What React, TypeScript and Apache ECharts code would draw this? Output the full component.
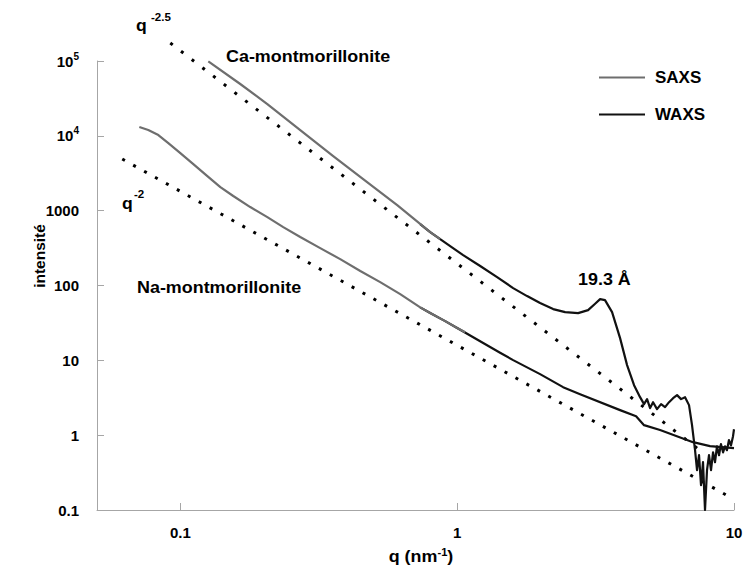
import React, { useEffect, useRef } from "react";
import * as echarts from "echarts";

// ---------- data ----------
const naSaxsQ = [0.0711, 0.0766, 0.0833, 0.0905, 0.1, 0.1114, 0.1252, 0.1395, 0.1553, 0.1789, 0.2062, 0.2354, 0.2711, 0.3201, 0.378, 0.4467, 0.5272, 0.6227, 0.7353, 0.799, 0.905, 1.0, 1.069];
const naSaxsI = [13100, 11960, 10250, 8010, 5890, 4198, 2900, 2068, 1570, 1117, 821, 603, 444, 316, 225, 156, 111, 76.7, 51, 42.8, 33.4, 27, 23.8];

const naWaxsQ = [0.7353, 0.799, 0.905, 1.0, 1.429, 1.593, 1.993, 2.414, 2.78, 3.877, 4.429, 4.732, 5.406, 7.112, 8.19, 10];
const naWaxsI = [51, 42.8, 33.4, 27, 12.6, 10.07, 6.54, 4.38, 3.53, 2.16, 1.79, 1.36, 1.17, 0.806, 0.713, 0.672];

const caSaxsQ = [0.1262, 0.1646, 0.2062, 0.2711, 0.3566, 0.4576, 0.6073, 0.7989, 0.868];
const caSaxsI = [99000, 49260, 26610, 11950, 5370, 2646, 1188, 517, 417];

const caWaxsQ = [0.7353, 0.7989, 0.9434, 1.051, 1.211, 1.394, 1.593, 1.789, 1.993, 2.222, 2.455, 2.734, 2.971, 3.15, 3.283, 3.42, 3.627, 3.877, 4.109, 4.355, 4.578, 4.732, 4.853, 4.976, 5.101, 5.272, 5.451, 5.636, 5.826, 6.024, 6.227, 6.438, 6.655, 6.879, 7.053, 7.232, 7.353, 7.476, 7.601, 7.728, 7.857, 7.989, 8.123, 8.26, 8.4, 8.54, 8.68, 8.83, 8.97, 9.13, 9.28, 9.43, 9.59, 9.75, 9.92, 10];
const caWaxsI = [660, 517, 336, 255, 182, 129.5, 92.3, 72.2, 58.2, 48.4, 44.1, 42.8, 46.9, 57, 65.8, 63.8, 44.1, 19.8, 8.63, 4.66, 3.22, 2.6, 3.03, 2.3, 2.76, 2.23, 2.6, 2.37, 2.76, 3.12, 3.43, 3.03, 3.22, 2.52, 1.36, 0.63, 0.34, 0.54, 0.215, 0.435, 0.1, 0.34, 0.54, 0.34, 0.59, 0.435, 0.71, 0.54, 0.76, 0.59, 0.71, 0.63, 0.86, 0.73, 0.97, 1.2];

// guide lines (power laws drawn as dotted lines)
const q25Q = [0.092, 7.857];
const q25I = [174000, 0.557];
const q2Q = [0.0617, 10];
const q2I = [4897, 0.139];

const legendNames = ["SAXS", "WAXS"];

const FONT = '"Liberation Sans", Arial, sans-serif';
const GRAY = "#6e6e6e";
const BLACK = "#111111";
const AXIS = "#a6a6a6";

const zip = (a: number[], b: number[]) => a.map((v, i) => [v, b[i]]);

const isDecade = (v: number) => {
  const l = Math.log10(v);
  return Math.abs(l - Math.round(l)) < 1e-6;
};

export default function App() {
  const ref = useRef<HTMLDivElement>(null);

  useEffect(() => {
    if (!ref.current) return;
    const chart = echarts.init(ref.current, undefined, { renderer: "svg" });

    const bold = (size: number) => `bold ${size}px ${FONT}`;

    const curve = (name: string, q: number[], I: number[], color: string, z: number) => ({
      name,
      type: "line",
      data: zip(q, I),
      symbol: "none",
      color,
      z,
      lineStyle: { color, width: 2.2, join: "round" },
    });

    const option: any = {
      animation: false,
      backgroundColor: "#ffffff",
      grid: { left: 97, right: 11, top: 61, bottom: 64, containLabel: false, outerBoundsMode: "none" },
      legend: {
        orient: "vertical",
        left: 594,
        top: 64,
        itemWidth: 46,
        itemHeight: 2,
        itemGap: 20,
        icon: "rect",
        data: legendNames,
        textStyle: { fontSize: 17, fontWeight: "bold", color: "#000", fontFamily: FONT, padding: [0, 0, 0, 5] },
      },
      xAxis: {
        type: "log",
        logBase: 10,
        min: 0.05,
        max: 10,
        axisLine: { show: true, lineStyle: { color: AXIS, width: 1 } },
        axisTick: { show: true, inside: true, length: 7, lineStyle: { color: AXIS } },
        minorTick: { show: false },
        splitLine: { show: false },
        axisLabel: {
          margin: 15,
          color: "#000",
          fontSize: 15,
          fontWeight: "bold",
          fontFamily: FONT,
          formatter: (v: number) => (isDecade(v) ? String(+v.toPrecision(6)) : ""),
        },
      },
      yAxis: {
        type: "log",
        logBase: 10,
        min: 0.1,
        max: 100000,
        axisLine: { show: true, lineStyle: { color: AXIS, width: 1 } },
        axisTick: { show: true, inside: true, length: 7, lineStyle: { color: AXIS } },
        minorTick: { show: false },
        splitLine: { show: false },
        axisLabel: {
          margin: 18,
          formatter: (v: number) => {
            if (!isDecade(v)) return "";
            const e = Math.round(Math.log10(v));
            if (e >= 4) return `{b|10}{s|${e}}`;
            return `{b|${+v.toPrecision(6)}}`;
          },
          rich: {
            b: { fontSize: 15, fontWeight: "bold", color: "#000", fontFamily: FONT },
            s: { fontSize: 10, fontWeight: "bold", color: "#000", fontFamily: FONT, padding: [0, 0, 10, 0] },
          },
        },
      },
      series: [
        {
          name: "q-2.5",
          type: "line",
          data: zip(q25Q, q25I),
          symbol: "none",
          clip: false,
          silent: true,
          z: 2,
          lineStyle: { color: "#000", width: 3, type: [3, 10.5] },
        },
        {
          name: "q-2",
          type: "line",
          data: zip(q2Q, q2I),
          symbol: "none",
          clip: false,
          silent: true,
          z: 2,
          lineStyle: { color: "#000", width: 3, type: [3, 9.5] },
        },
        curve("WAXS", caWaxsQ, caWaxsI, BLACK, 3),
        curve("WAXS", naWaxsQ, naWaxsI, BLACK, 3),
        curve("SAXS", caSaxsQ, caSaxsI, GRAY, 4),
        curve("SAXS", naSaxsQ, naSaxsI, GRAY, 4),
      ],
      graphic: [
        {
          type: "text",
          x: 226,
          y: 57,
          scaleX: 1.12,
          style: { text: "Ca-montmorillonite", font: bold(16), fill: "#000", align: "left", verticalAlign: "middle" },
        },
        {
          type: "text",
          x: 137,
          y: 288,
          scaleX: 1.12,
          style: { text: "Na-montmorillonite", font: bold(16), fill: "#000", align: "left", verticalAlign: "middle" },
        },
        {
          type: "text",
          x: 578,
          y: 280,
          scaleX: 1.12,
          style: { text: "19.3 Å", font: bold(16), fill: "#000", align: "left", verticalAlign: "middle" },
        },
        {
          type: "text",
          x: 136,
          y: 26,
          scaleX: 1.1,
          style: { text: "q", font: bold(16), fill: "#000", align: "left", verticalAlign: "middle" },
        },
        {
          type: "text",
          x: 151,
          y: 17,
          scaleX: 1.1,
          style: { text: "-2.5", font: bold(10.5), fill: "#000", align: "left", verticalAlign: "middle" },
        },
        {
          type: "text",
          x: 122,
          y: 203.5,
          scaleX: 1.1,
          style: { text: "q", font: bold(16), fill: "#000", align: "left", verticalAlign: "middle" },
        },
        {
          type: "text",
          x: 134,
          y: 194.5,
          scaleX: 1.1,
          style: { text: "-2", font: bold(10.5), fill: "#000", align: "left", verticalAlign: "middle" },
        },
        {
          type: "text",
          x: 421,
          y: 557,
          scaleX: 1.12,
          style: {
            text: "{a|q (nm}{s|-1}{a|)}",
            align: "center",
            verticalAlign: "middle",
            rich: {
              a: { fontSize: 16, fontWeight: "bold", fontFamily: FONT, fill: "#000", color: "#000" },
              s: { fontSize: 10, fontWeight: "bold", fontFamily: FONT, fill: "#000", color: "#000", padding: [0, 0, 9, 0] },
            },
          },
        },
        {
          type: "text",
          x: 39,
          y: 256,
          rotation: Math.PI / 2,
          style: { text: "intensité", font: bold(15.5), fill: "#000", align: "center", verticalAlign: "middle" },
        },
      ],
    };

    chart.setOption(option);
    return () => chart.dispose();
  }, []);

  return (
    <div
      ref={ref}
      style={{ position: "absolute", left: 0, top: 0, width: 745, height: 574, background: "#fff" }}
    />
  );
}
